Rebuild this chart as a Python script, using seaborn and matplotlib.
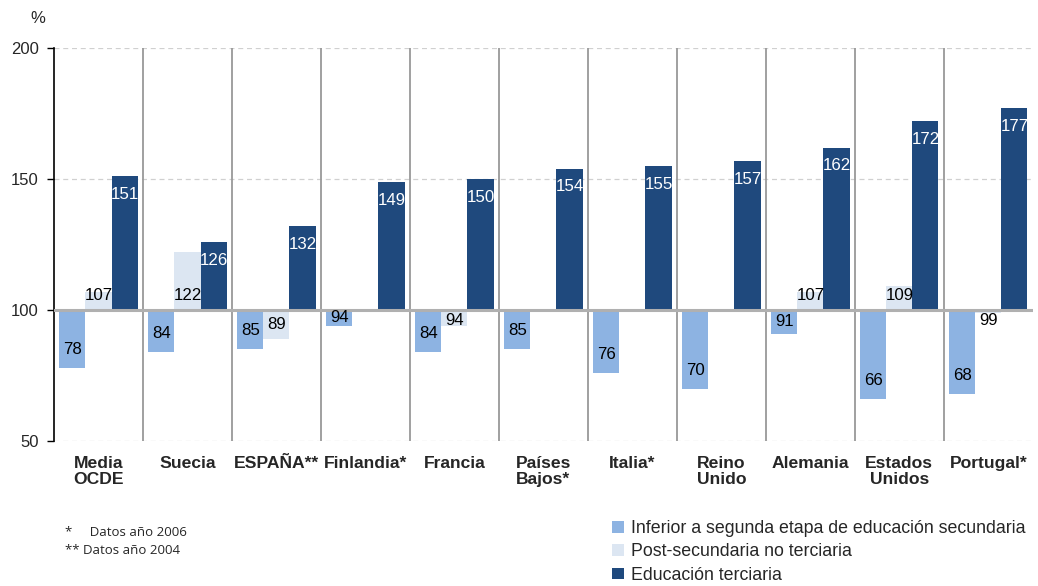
import numpy as np
import pandas as pd
import matplotlib
matplotlib.use("Agg")
import matplotlib.pyplot as plt
from matplotlib.ticker import FuncFormatter
from matplotlib.patches import Patch
import seaborn as sns

# data (index, base 100 = segunda etapa de secundaria)
countries = ["Media\nOCDE", "Suecia", "ESPAÑA**", "Finlandia*", "Francia",
             "Países\nBajos*", "Italia*", "Reino\nUnido", "Alemania",
             "Estados\nUnidos", "Portugal*"]
inferior = [78, 84, 85, 94, 84, 85, 76, 70, 91, 66, 68]
post_sec = [107, 122, 89, np.nan, 94, np.nan, np.nan, np.nan, 107, 109, 99]
terciaria = [151, 126, 132, 149, 150, 154, 155, 157, 162, 172, 177]
series = ["Inferior a segunda etapa de educación secundaria",
          "Post-secundaria no terciaria",
          "Educación terciaria"]
colors = ["#8db3e2", "#dce6f2", "#1f497d"]
BASE = 100

sns.set_style("white")
plt.rcParams["font.family"] = ["Liberation Sans", "DejaVu Sans"]

df = pd.DataFrame({
    "pais": countries * 3,
    "serie": [series[0]] * 11 + [series[1]] * 11 + [series[2]] * 11,
    "valor": inferior + post_sec + terciaria,
})
df["dif"] = df["valor"] - BASE

fig = plt.figure(figsize=(10.38, 5.86), dpi=100)
ax = fig.add_axes([0.052, 0.2474, 0.943, 0.6706])

sns.barplot(data=df, x="pais", y="dif", hue="serie", hue_order=series,
            palette=colors, width=0.88, gap=0, ax=ax, legend=False,
            errorbar=None, saturation=1, linewidth=0)

ax.set_xlim(-0.5, len(countries) - 0.5)
ax.set_ylim(-50, 100)
ax.set_yticks([-50, 0, 50, 100])
ax.yaxis.set_major_formatter(FuncFormatter(lambda v, p: f"{int(v + BASE)}"))
ax.tick_params(axis="y", labelsize=12, length=5, width=1, color="black",
               left=True, pad=6)
ax.tick_params(axis="x", length=0, pad=11)
ax.set_xticks(range(len(countries)))
ax.set_xticklabels(countries, fontsize=12.6, fontweight="bold",
                   linespacing=1.05, va="top")
ax.set_xlabel("")
ax.set_ylabel("")

for s in ["top", "right", "bottom"]:
    ax.spines[s].set_visible(False)
ax.spines["left"].set_color("black")
ax.spines["left"].set_linewidth(1.2)

for yv in [-50, 50, 100]:
    ax.axhline(yv, color="#d0d0d0", lw=0.9, ls=(0, (4, 3)), zorder=0)
for xv in np.arange(0.5, len(countries) - 0.5, 1):
    ax.axvline(xv, color="#999999", lw=1.3, zorder=0.5)

# data labels
for j, cont in enumerate(ax.containers):
    for patch in cont.patches:
        h = patch.get_height()
        if np.isnan(h):
            continue
        xc = patch.get_x() + patch.get_width() / 2
        v = h + BASE
        if j == 0:
            y = min(v + 7, (v + BASE) / 2)
            col = "black"
        elif j == 1:
            if h > 0:
                y = 105.5
            else:
                y = min(96, (v + BASE) / 2)
            col = "black"
        else:
            y = v - 7
            col = "white"
        ax.text(xc, y - BASE, f"{int(v)}", ha="center", va="center",
                fontsize=12.2, color=col, zorder=5)

ax.axhline(0, color="#b0b0b0", lw=2.2, zorder=4)

fig.text(0.029, 0.969, "%", fontsize=12, ha="left", va="center")

handles = [Patch(facecolor=c, edgecolor="none") for c in colors]
fig.legend(handles, series, loc="upper left", bbox_to_anchor=(0.581, 0.128),
           frameon=False, fontsize=12.8, handlelength=0.65, handleheight=0.65,
           handletextpad=0.4, labelspacing=0.36, borderpad=0)

fig.text(0.063, 0.092, "*     Datos año 2006", fontsize=9.5,
         family=["Open Sans", "DejaVu Sans"], va="center")
fig.text(0.063, 0.061, "** Datos año 2004", fontsize=9.5,
         family=["Open Sans", "DejaVu Sans"], va="center")

fig.savefig("out.png", dpi=100)
